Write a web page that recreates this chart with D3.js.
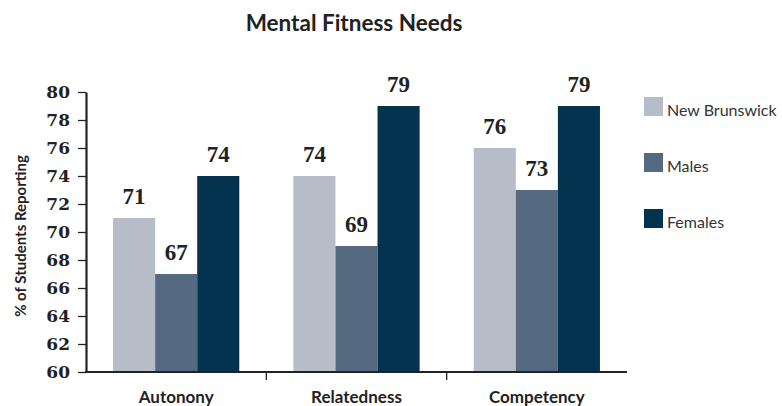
<!DOCTYPE html>
<html>
<head>
<meta charset="utf-8">
<script src="https://cdn.jsdelivr.net/npm/d3@7"></script>
<style>
  html, body { margin: 0; padding: 0; background: #fff; }
  svg { display: block; }
</style>
</head>
<body>
<svg id="chart" width="782" height="406"></svg>
<script>
// Mental fitness needs by group (% of students reporting)
const categories = ["Autonony", "Relatedness", "Competency"];
const seriesNames = ["New Brunswick", "Males", "Females"];
const newBrunswick = [71, 74, 76];
const males = [67, 69, 73];
const females = [74, 79, 79];
const yTicks = [60, 62, 64, 66, 68, 70, 72, 74, 76, 78, 80];
const colors = ["#b6bcc8", "#556a81", "#03334f"];

const seriesValues = [newBrunswick, males, females];

const svg = d3.select("#chart");
const margin = { left: 86, top: 92 };
const plotBottom = 372;

const x = d3.scaleBand()
  .domain(categories)
  .range([margin.left, 627])
  .paddingInner(0.3)
  .paddingOuter(0.15);

const xs = d3.scaleBand()
  .domain(seriesNames)
  .range([0, x.bandwidth()])
  .padding(0);

const y = d3.scaleLinear()
  .domain([60, 80])
  .range([plotBottom, margin.top]);

// Title
svg.append("text")
  .attr("x", 354)
  .attr("y", 31)
  .attr("text-anchor", "middle")
  .style("font-family", "Lato, 'Open Sans', sans-serif")
  .style("font-weight", "bold")
  .style("font-size", "22.5px")
  .style("fill", "#222")
  .text("Mental Fitness Needs");

// Bars
const groups = svg.append("g").selectAll("g")
  .data(categories)
  .join("g")
  .attr("transform", d => `translate(${x(d)},0)`);

const cells = (c, ci) => seriesNames.map((s, si) => ({ s, si, v: seriesValues[si][ci] }));

groups.selectAll("rect")
  .data(cells)
  .join("rect")
  .attr("x", d => xs(d.s))
  .attr("width", xs.bandwidth())
  .attr("y", d => y(d.v))
  .attr("height", d => plotBottom - y(d.v))
  .attr("fill", d => colors[d.si]);

// Value labels
groups.selectAll("text.val")
  .data(cells)
  .join("text")
  .attr("class", "val")
  .attr("x", d => xs(d.s) + xs.bandwidth() / 2)
  .attr("y", d => y(d.v) - 14)
  .attr("text-anchor", "middle")
  .style("font-family", "'Liberation Serif', serif")
  .style("font-weight", "bold")
  .style("font-size", "23px")
  .style("fill", "#222")
  .text(d => d.v);

// Y axis
const yAxis = d3.axisLeft(y)
  .tickValues(yTicks)
  .tickSize(8)
  .tickPadding(8)
  .tickSizeOuter(0);

const gy = svg.append("g")
  .attr("transform", `translate(${margin.left},0)`)
  .call(yAxis);
gy.select(".domain").attr("stroke", "#222").attr("stroke-width", 2.2);
gy.selectAll(".tick line").attr("stroke", "#222").attr("stroke-width", 1.3);
gy.selectAll(".tick text")
  .style("font-family", "'DejaVu Serif', serif")
  .style("font-weight", "bold")
  .style("font-size", "17px")
  .style("fill", "#222");

// X axis baseline and group separators
const gx = svg.append("g");
gx.append("line")
  .attr("x1", margin.left - 1)
  .attr("x2", x.range()[1])
  .attr("y1", plotBottom)
  .attr("y2", plotBottom)
  .attr("stroke", "#222")
  .attr("stroke-width", 2.2);

const step = x.step();
const separators = categories.slice(1).map(c => x(c) - step * x.paddingInner() / 2);
gx.selectAll("line.sep")
  .data(separators)
  .join("line")
  .attr("class", "sep")
  .attr("x1", d => d).attr("x2", d => d)
  .attr("y1", plotBottom).attr("y2", plotBottom + 8)
  .attr("stroke", "#222")
  .attr("stroke-width", 1.3);

gx.selectAll("text.cat")
  .data(categories)
  .join("text")
  .attr("class", "cat")
  .attr("x", d => x(d) + x.bandwidth() / 2)
  .attr("y", 403)
  .attr("text-anchor", "middle")
  .style("font-family", "Lato, 'Open Sans', sans-serif")
  .style("font-weight", "bold")
  .style("font-size", "17px")
  .style("fill", "#222")
  .text(d => d);

// Y axis title
svg.append("text")
  .attr("transform", "translate(26,236) rotate(-90)")
  .attr("text-anchor", "middle")
  .style("font-family", "Lato, 'Open Sans', sans-serif")
  .style("font-weight", "bold")
  .style("font-size", "15px")
  .style("fill", "#222")
  .text("% of Students Reporting");

// Legend
const legend = svg.append("g")
  .selectAll("g")
  .data(seriesNames)
  .join("g")
  .attr("transform", (d, i) => `translate(644,${97 + i * 56})`);

legend.append("rect")
  .attr("width", 19)
  .attr("height", 19)
  .attr("fill", (d, i) => colors[i]);

legend.append("text")
  .attr("x", 23)
  .attr("y", 19)
  .style("font-family", "Lato, 'Open Sans', sans-serif")
  .style("font-size", "16px")
  .style("fill", "#333")
  .text(d => d);
</script>
</body>
</html>
